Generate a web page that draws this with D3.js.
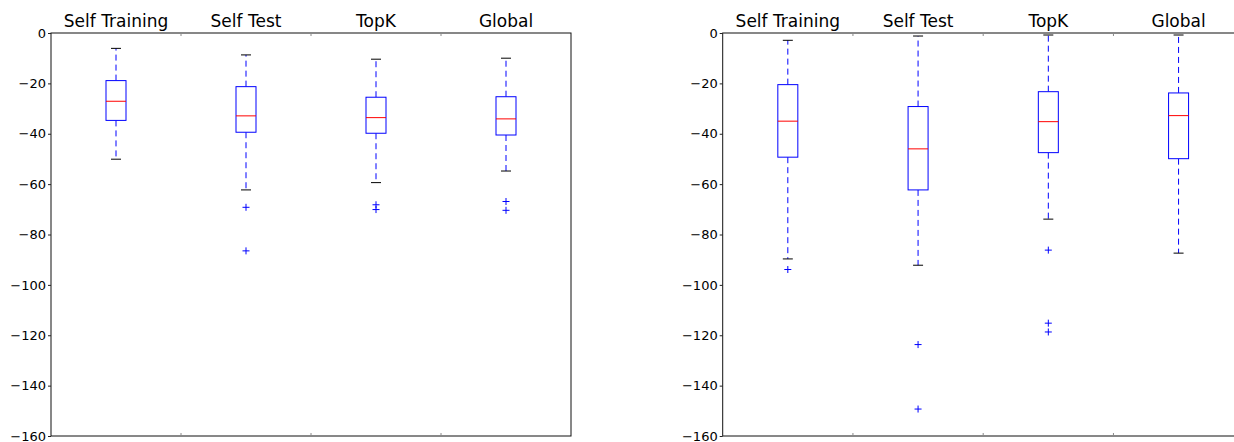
<!DOCTYPE html>
<meta charset="utf-8">
<style>
body { margin: 0; background: white; }
svg text { font-family: "DejaVu Sans", sans-serif; fill: black; }
</style>
<body>
<script src="https://d3js.org/d3.v7.min.js"></script>
<script>

////*Data*////
const categories = ["Self Training", "Self Test", "TopK", "Global"];
const yTicks = [0, -20, -40, -60, -80, -100, -120, -140, -160];

// left panel
const leftWhiskerHigh = [-6.1, -8.7, -10.4, -10.0];
const leftQ3 = [-18.9, -21.3, -25.5, -25.3];
const leftMedian = [-27.1, -32.9, -33.6, -34.1];
const leftQ1 = [-34.7, -39.4, -39.8, -40.5];
const leftWhiskerLow = [-50.1, -62.3, -59.4, -54.8];
const leftOutliers = [[], [-69.2, -86.5], [-68.2, -70.1], [-66.9, -70.4]];

// right panel
const rightWhiskerHigh = [-2.9, -1.2, -0.8, -0.8];
const rightQ3 = [-20.5, -29.2, -23.3, -23.8];
const rightMedian = [-35.0, -46.0, -35.2, -32.8];
const rightQ1 = [-49.3, -62.3, -47.5, -49.9];
const rightWhiskerLow = [-89.7, -92.2, -73.9, -87.4];
const rightOutliers = [[-93.9], [-123.7, -149.3], [-86.2, -115.2, -118.7], []];

////*Layout*////
const W = 1234, H = 442;
const plotTop = 33, plotBottom = 436;
const boxW = 20, capW = 10;

const svg = d3.select("body").append("svg")
   .attr("width", W)
   .attr("height", H);

function drawPanel(left, right, whiskHi, q3, med, q1, whiskLo, outliers) {
   const x = d3.scaleBand().domain(categories).range([left, right]).padding(0);
   const y = d3.scaleLinear().domain([-160, 0]).range([plotBottom, plotTop]);
   const cx = c => x(c) + x.bandwidth() / 2;

   const g = svg.append("g");

   // frame
   g.append("rect")
      .attr("x", left).attr("y", plotTop)
      .attr("width", right - left).attr("height", plotBottom - plotTop)
      .attr("fill", "none").attr("stroke", "#111").attr("stroke-width", 1);

   // boundary ticks top & bottom
   const inner = categories.slice(1).map(c => x(c));
   g.selectAll("line.tt").data(inner).join("line")
      .attr("x1", d => d).attr("x2", d => d)
      .attr("y1", plotTop).attr("y2", plotTop + 3)
      .attr("stroke", "#888");
   g.selectAll("line.bt").data(inner).join("line")
      .attr("x1", d => d).attr("x2", d => d)
      .attr("y1", plotBottom).attr("y2", plotBottom - 3)
      .attr("stroke", "#888");

   // y axis
   const yAxis = d3.axisLeft(y).tickValues(yTicks).tickSize(3).tickPadding(2);
   const ya = g.append("g").attr("transform", `translate(${left},0)`).call(yAxis);
   ya.select(".domain").remove();
   ya.selectAll("text").style("font-size", "13px").attr("fill", "black");
   ya.selectAll("line").attr("stroke", "#222");

   // category labels on top
   g.selectAll("text.cat").data(categories).join("text")
      .attr("class", "cat")
      .attr("x", d => cx(d))
      .attr("y", plotTop - 6)
      .attr("text-anchor", "middle")
      .style("font-size", "17px")
      .text(d => d);

   categories.forEach((c, i) => {
      const xc = cx(c);
      // whiskers
      g.append("line")
         .attr("x1", xc).attr("x2", xc)
         .attr("y1", y(q3[i])).attr("y2", y(whiskHi[i]))
         .attr("stroke", "blue").attr("stroke-dasharray", "6,4");
      g.append("line")
         .attr("x1", xc).attr("x2", xc)
         .attr("y1", y(q1[i])).attr("y2", y(whiskLo[i]))
         .attr("stroke", "blue").attr("stroke-dasharray", "6,4");
      // caps
      [whiskHi[i], whiskLo[i]].forEach(v => {
         g.append("line")
            .attr("x1", xc - capW / 2).attr("x2", xc + capW / 2)
            .attr("y1", y(v)).attr("y2", y(v))
            .attr("stroke", "black");
      });
      // box
      g.append("rect")
         .attr("x", xc - boxW / 2).attr("y", y(q3[i]))
         .attr("width", boxW).attr("height", y(q1[i]) - y(q3[i]))
         .attr("fill", "white").attr("stroke", "blue");
      // median
      g.append("line")
         .attr("x1", xc - boxW / 2).attr("x2", xc + boxW / 2)
         .attr("y1", y(med[i])).attr("y2", y(med[i]))
         .attr("stroke", "red");
      // fliers
      outliers[i].forEach(v => {
         g.append("path")
            .attr("d", `M${xc - 3.5},${y(v)}H${xc + 3.5}M${xc},${y(v) - 3.5}V${y(v) + 3.5}`)
            .attr("stroke", "blue").attr("fill", "none");
      });
   });
}

drawPanel(51, 571, leftWhiskerHigh, leftQ3, leftMedian, leftQ1, leftWhiskerLow, leftOutliers);
drawPanel(722.7, 1243.7, rightWhiskerHigh, rightQ3, rightMedian, rightQ1, rightWhiskerLow, rightOutliers);

</script>
</body>
</html>
